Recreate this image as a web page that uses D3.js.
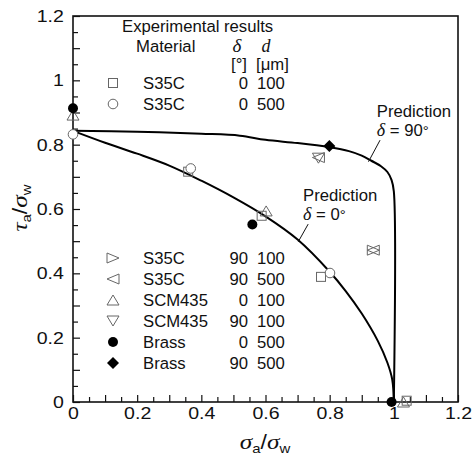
<!DOCTYPE html>
<html>
<head>
<meta charset="utf-8">
<script src="https://cdn.jsdelivr.net/npm/d3@7"></script>
<style>
  body { margin: 0; background: #fff; }
  svg { display: block; }
  text { font-family: "Liberation Sans", Arial, sans-serif; fill: #111; }
  .greek { font-family: "Liberation Serif", "Times New Roman", serif; font-style: italic; }
</style>
</head>
<body>
<div id="chart"></div>
<script>
// prediction curves (sigma_a/sigma_w, tau_a/sigma_w)
const pred0Sigma = [0, 0.1, 0.2, 0.3, 0.4, 0.5, 0.6, 0.7, 0.8, 0.85, 0.9, 0.95, 0.98, 0.995, 1.0];
const pred0Tau   = [0.843, 0.806, 0.772, 0.735, 0.688, 0.636, 0.577, 0.505, 0.405, 0.345, 0.275, 0.19, 0.122, 0.07, 0];
const pred90Sigma = [0, 0.2, 0.4, 0.52, 0.6, 0.7, 0.8, 0.86, 0.9, 0.93, 0.96, 0.98, 0.993, 1.0, 1.0];
const pred90Tau   = [0.843, 0.840, 0.834, 0.828, 0.815, 0.805, 0.792, 0.78, 0.766, 0.75, 0.733, 0.715, 0.69, 0.655, 0];

// experimental points per series
const seriesNames = ['S35C 0 100', 'S35C 0 500', 'S35C 90 100', 'S35C 90 500', 'SCM435 0 100', 'SCM435 90 100', 'Brass 0 500', 'Brass 90 500'];
const s35c_0_100   = [[0.359, 0.716], [0.588, 0.579], [0.773, 0.389], [1.04, 0.004]];
const s35c_0_500   = [[0, 0.832], [0.367, 0.726], [0.801, 0.401]];
const s35c_90_100  = [[0.936, 0.472]];
const s35c_90_500  = [[0.765, 0.76], [0.936, 0.472]];
const scm_0_100    = [[0, 0.892], [0.602, 0.594], [1.03, 0]];
const scm_90_100   = [[0.765, 0.758]];
const brass_0_500  = [[0, 0.913], [0.559, 0.552], [0.993, 0]];
const brass_90_500 = [[0.799, 0.796]];

// legend rows
const legendMaterial = ['S35C', 'S35C', 'S35C', 'S35C', 'SCM435', 'SCM435', 'Brass', 'Brass'];
const legendDelta = ['0', '0', '90', '90', '0', '90', '0', '90'];
const legendD = ['100', '500', '100', '500', '100', '100', '500', '500'];

const xTicks = [0, 0.2, 0.4, 0.6, 0.8, 1, 1.2];
const yTicks = [0, 0.2, 0.4, 0.6, 0.8, 1, 1.2];

const width = 472, height = 458;
const svg = d3.select('#chart').append('svg')
  .attr('width', width)
  .attr('height', height);

const x = d3.scaleLinear().domain([0, 1.2]).range([73, 458]);
const y = d3.scaleLinear().domain([0, 1.2]).range([402, 16]);

const SX = 1.15; // tick digits in the figure are a bit wide

// minor ticks every 0.05, major every 0.1
const minorVals = d3.range(1, 24, 2).map(i => i * 0.05);
const majorVals = d3.range(1, 12).map(i => i * 0.1);
const fmt = d => xTicks.some(t => Math.abs(t - d) < 1e-6) ? d3.format('~g')(+d.toFixed(1)) : '';

function styleAxis(g) {
  g.select('.domain').remove();
  g.selectAll('line').attr('stroke', '#111').attr('stroke-width', 1.2);
}

svg.append('g').attr('transform', `translate(0,${y(0)})`)
  .call(d3.axisBottom(x).tickValues(minorVals).tickSize(-5).tickFormat(''))
  .call(styleAxis);
svg.append('g').attr('transform', `translate(0,${y(0)})`)
  .call(d3.axisBottom(x).tickValues([0].concat(majorVals, [1.2])).tickSize(-7).tickPadding(5).tickFormat(fmt))
  .call(styleAxis)
  .call(g => g.selectAll('text').attr('font-size', 17).attr('transform', `scale(${SX},1)`));

svg.append('g').attr('transform', `translate(${x(0)},0)`)
  .call(d3.axisLeft(y).tickValues(minorVals).tickSize(-5).tickFormat(''))
  .call(styleAxis);
svg.append('g').attr('transform', `translate(${x(0)},0)`)
  .call(d3.axisLeft(y).tickValues([0].concat(majorVals, [1.2])).tickSize(-7).tickPadding(8).tickFormat(fmt))
  .call(styleAxis)
  .call(g => g.selectAll('text').attr('font-size', 17).attr('transform', `scale(${SX},1)`));

// frame
svg.append('rect')
  .attr('x', x(0)).attr('y', y(1.2))
  .attr('width', x(1.2) - x(0)).attr('height', y(0) - y(1.2))
  .attr('fill', 'none').attr('stroke', '#111').attr('stroke-width', 1.6);

// prediction curves
const line = d3.line().x(d => x(d[0])).y(d => y(d[1])).curve(d3.curveCatmullRom.alpha(0.5));
svg.append('path')
  .datum(d3.zip(pred0Sigma, pred0Tau))
  .attr('d', line).attr('fill', 'none').attr('stroke', '#000').attr('stroke-width', 2);
svg.append('path')
  .datum(d3.zip(pred90Sigma, pred90Tau))
  .attr('d', line).attr('fill', 'none').attr('stroke', '#000').attr('stroke-width', 2);

// marker shapes
const grey = '#666';
function marker(g, kind) {
  if (kind === 'square') {
    g.append('rect').attr('x', -4.5).attr('y', -4.5).attr('width', 9).attr('height', 9)
      .attr('fill', 'none').attr('stroke', grey).attr('stroke-width', 1);
  } else if (kind === 'circle') {
    g.append('circle').attr('r', 4.8).attr('fill', '#fff').attr('stroke', grey).attr('stroke-width', 1);
  } else if (kind === 'dot') {
    g.append('circle').attr('r', 5).attr('fill', '#000');
  } else if (kind === 'diamond') {
    g.append('path').attr('d', 'M0,-6L6,0L0,6L-6,0Z').attr('fill', '#000');
  } else {
    const tri = {
      up: 'M0,-5L6,5L-6,5Z',
      down: 'M0,5L6,-5L-6,-5Z',
      right: 'M6,0L-6,-5L-6,5Z',
      left: 'M-6,0L6,-5L6,5Z'
    }[kind];
    g.append('path').attr('d', tri).attr('fill', 'none').attr('stroke', grey).attr('stroke-width', 1);
  }
}

const seriesKinds = ['square', 'circle', 'right', 'left', 'up', 'down', 'dot', 'diamond'];
const seriesData = [s35c_0_100, s35c_0_500, s35c_90_100, s35c_90_500, scm_0_100, scm_90_100, brass_0_500, brass_90_500];

seriesData.forEach((pts, i) => {
  svg.append('g').attr('class', 'series').attr('data-name', seriesNames[i])
    .selectAll('g')
    .data(pts)
    .enter().append('g')
    .attr('transform', d => `translate(${x(d[0])},${y(d[1])})`)
    .each(function() { marker(d3.select(this), seriesKinds[i]); });
});

function txt(px, py, s, anchor, size) {
  return svg.append('text')
    .attr('x', px).attr('y', py)
    .attr('text-anchor', anchor || 'start')
    .attr('font-size', size || 16.7)
    .text(s);
}

// legend
txt(122, 32, 'Experimental results');
txt(136, 52, 'Material');
txt(237, 52, 'δ', 'middle', 19).attr('class', 'greek');
txt(266, 52, 'd', 'middle', 18).attr('class', 'greek');
txt(231, 70, '[°]');
txt(256, 70, '[μm]');

const rowY = [89, 110, 264, 285, 306, 327, 348, 369];
legendMaterial.forEach((m, i) => {
  const g = svg.append('g').attr('transform', `translate(113,${rowY[i] - 6})`);
  marker(g, seriesKinds[i]);
  txt(143, rowY[i], m);
  txt(248, rowY[i], legendDelta[i], 'end');
  txt(257, rowY[i], legendD[i]);
});

// prediction annotations
const note90 = { text: [0.947, 0.887], leader: [[0.957, 0.814], [0.921, 0.747]] };
const note0 = { text: [0.717, 0.626], leader: [[0.733, 0.553], [0.702, 0.498]] };
[[note90, '90'], [note0, '0']].forEach(([n, v]) => {
  const px = x(n.text[0]), py = y(n.text[1]);
  txt(px, py, 'Prediction');
  const t = svg.append('text')
    .attr('x', px).attr('y', py + 19)
    .attr('font-size', 16.7);
  t.append('tspan').attr('class', 'greek').attr('font-size', 18).text('δ');
  t.append('tspan').text(' = ' + v);
  t.append('tspan').attr('font-size', 15).text('°');
  svg.append('line')
    .attr('x1', x(n.leader[0][0])).attr('y1', y(n.leader[0][1]))
    .attr('x2', x(n.leader[1][0])).attr('y2', y(n.leader[1][1]))
    .attr('stroke', '#111').attr('stroke-width', 1);
});

// axis titles
function ratioLabel(t, num) {
  t.append('tspan').attr('class', 'greek').attr('font-size', 22).text(num);
  t.append('tspan').attr('font-size', 13).attr('dy', 4).text('a');
  t.append('tspan').attr('font-size', 20).attr('dy', -4).text('/');
  t.append('tspan').attr('class', 'greek').attr('font-size', 22).text('σ');
  t.append('tspan').attr('font-size', 13).attr('dy', 4).text('w');
}
ratioLabel(svg.append('text')
  .attr('transform', `translate(265,449) scale(${SX},1)`)
  .attr('text-anchor', 'middle'), 'σ');
ratioLabel(svg.append('text')
  .attr('transform', `translate(27,208) rotate(-90) scale(${SX},1)`)
  .attr('text-anchor', 'middle'), 'τ');
</script>
</body>
</html>
